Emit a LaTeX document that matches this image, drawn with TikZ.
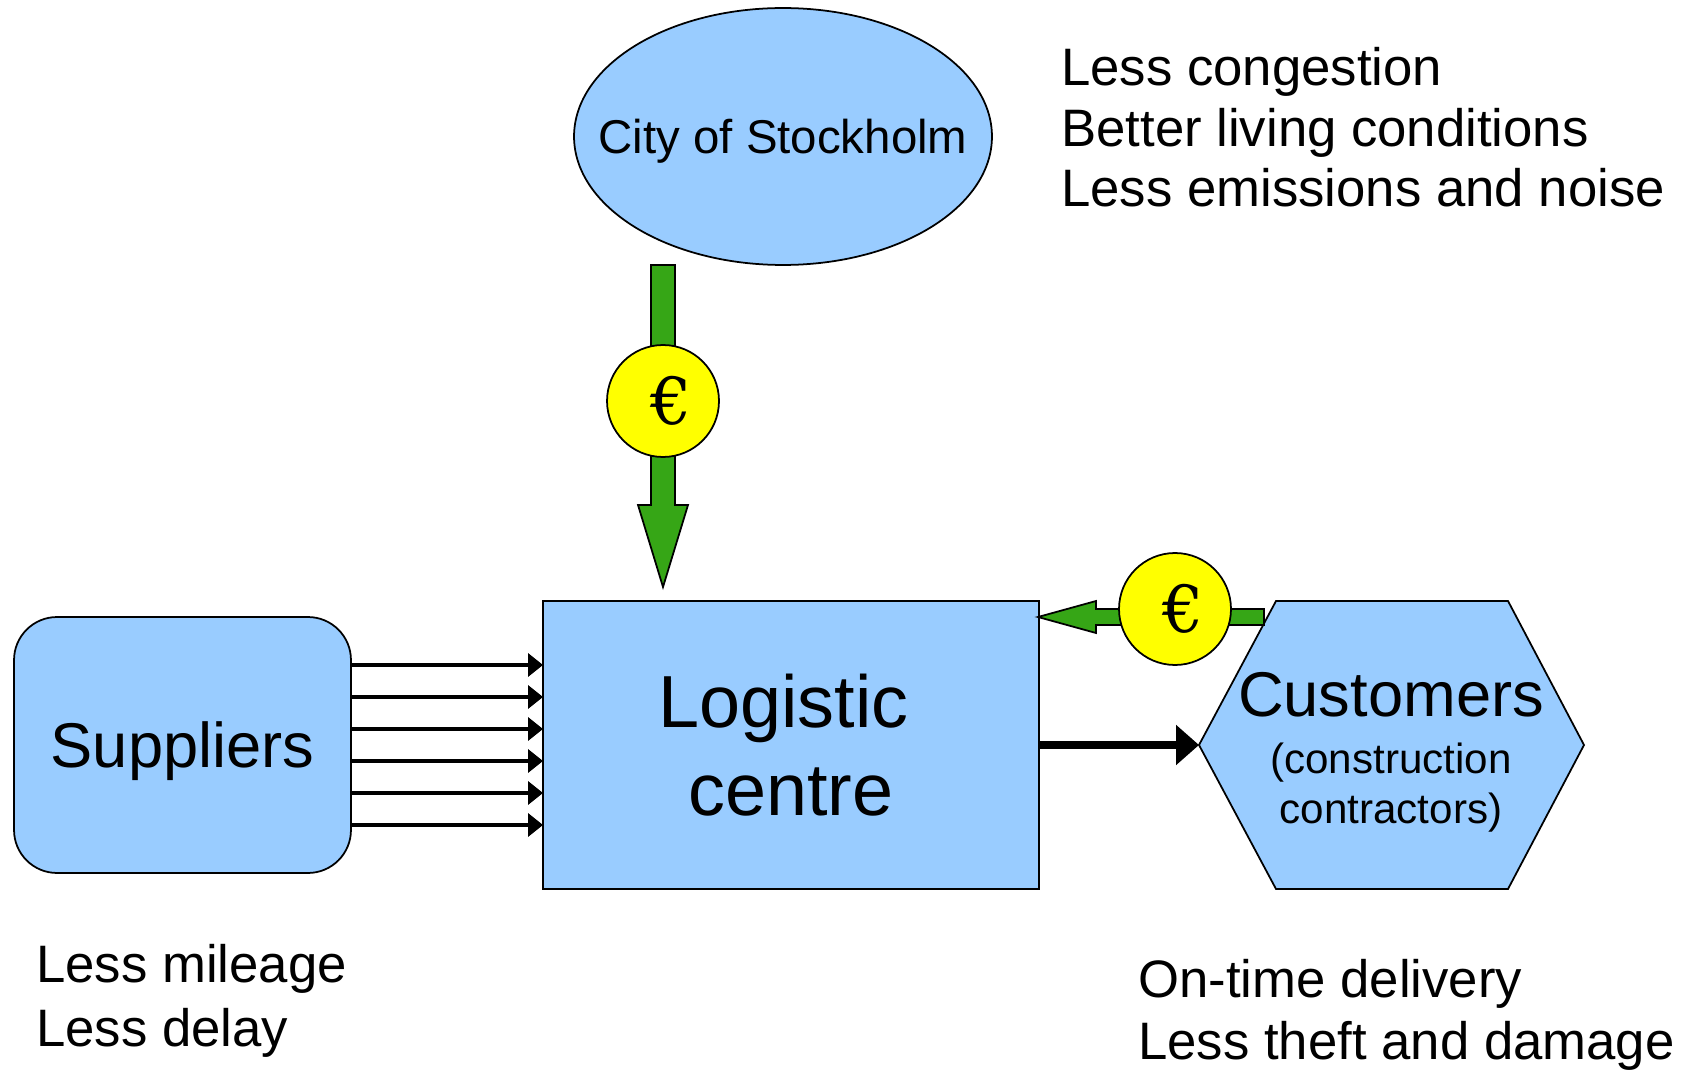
\documentclass[tikz,border=0pt]{standalone}
\usepackage{fontspec}
\setmainfont{Liberation Sans}
\newfontfamily\eurofont{DejaVu Serif}
\usepackage{tikz}
\usetikzlibrary{arrows.meta,shapes.geometric}
\definecolor{boxblue}{RGB}{153,204,255}
\definecolor{coinyellow}{RGB}{255,255,0}
\definecolor{flowgreen}{RGB}{54,166,22}

\begin{document}
\begin{tikzpicture}[
x=0.02cm, y=-0.02cm,
    B/.style = {draw, fill=boxblue, line width=1pt,% styles of the blue shapes
                inner sep=0pt, outer sep=0pt},
    C/.style = {circle, draw, fill=coinyellow, line width=1pt,% styles of the coins
                minimum size=2.24cm, inner sep=0pt,
                font=\eurofont\fontsize{37}{37}\selectfont},
    G/.style = {draw, fill=flowgreen, line width=1pt},
    F/.style = {-{Triangle[length=8.5pt,width=13pt]}, line width=1.9pt},
    K/.style = {-{Triangle[length=13pt,width=22pt]}, line width=4.25pt},
    T/.style = {inner sep=0pt, align=left, anchor=base west,% base = last line
                font=\fontsize{30}{34.6}\selectfont},
                        ]
\useasboundingbox (0,0) rectangle (1693,1074);
% shapes
\node[B, ellipse, minimum width=8.36cm, minimum height=5.14cm,
      label={[font=\fontsize{27}{30}\selectfont, text height=19.4pt, text depth=0pt]center:City of Stockholm}]
      (city) at (783,136.5) {};
\node[B, rounded corners=0.86cm, minimum width=6.74cm, minimum height=5.12cm,
      font=\fontsize{36}{40}\selectfont, text height=25.8pt, text depth=0pt]
      (suppliers) at (182.5,745) {Suppliers};
\node[B, minimum width=9.92cm, minimum height=5.76cm, align=center,
      font=\fontsize{42}{50.5}\selectfont]
      (logistic) at (791,745) {Logistic\hspace*{0.3cm}\\centre};
\draw[B] (1199,745) coordinate (custW) -- (1276,601) -- (1508,601)
      -- (1584,745) -- (1508,889) -- (1276,889) -- cycle;
\node[inner sep=0pt, anchor=base, font=\fontsize{36}{40}\selectfont]
      (customers) at (1391,716.7) {Customers};
\node[inner sep=0pt, anchor=base, align=center, font=\fontsize{24}{28.3}\selectfont]
      (contractors) at (1391,823) {(construction\\contractors)};
% goods
\foreach \i [evaluate=\i as \y using 665+32*\i] in {0,...,5}% <-- six deliveries
    \draw[F] (suppliers.east |- 0,\y) -- (logistic.west |- 0,\y);
\draw[K] (logistic.east) -- (custW);
% money
\draw[G] (651,265) -- (675,265) -- (675,505) -- (688,505) -- (663,587)
      -- (638,505) -- (651,505) -- cycle;
\draw[G] (1264,609) -- (1264,625) -- (1096,625) -- (1096,633) -- (1038,617)
      -- (1096,601) -- (1096,609) -- cycle;
\node[C] (coinA) at (663,401) {\hspace*{0.34cm}€};
\node[C] (coinB) at (1175,609) {\hspace*{0.34cm}€};
% gains
\node[T] (cityaims) at (1061,207)
      {Less congestion\\Better living conditions\\Less emissions and noise};
\node[T, font=\fontsize{30}{36.8}\selectfont] (supplieraims) at (36,1046.7)
      {Less mileage\\Less delay};
\node[T, font=\fontsize{30}{35.1}\selectfont] (customeraims) at (1138,1059)
      {On-time delivery\\Less theft and damage};
\end{tikzpicture}
\end{document}
